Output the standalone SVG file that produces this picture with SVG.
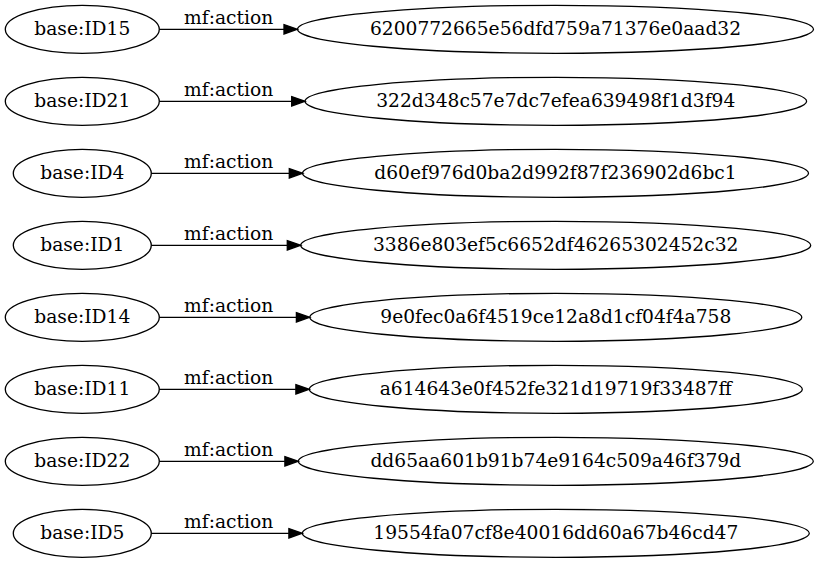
<svg xmlns="http://www.w3.org/2000/svg" width="819" height="563" viewBox="0 0 819 563">
<defs>
<style>
.n ellipse{fill:none;stroke:#000;stroke-width:1.33}
text{font-family:"DejaVu Serif","Liberation Serif",serif;font-size:18.67px;fill:#000;text-anchor:middle}
.e line{stroke:#000;stroke-width:1.33}
.e polygon{fill:#000;stroke:#000;stroke-width:1.33}
</style>
</defs>
<rect width="819" height="563" fill="#fff"/>
<g id="connectors" class="e">
<line x1="159.3" y1="29.3" x2="284" y2="29.3"/><polygon points="284,24.6 297.3,29.3 284,34"/><text x="228.7" y="23.8">mf:action</text>
<line x1="159.3" y1="101.3" x2="291.7" y2="101.3"/><polygon points="291.7,96.6 305,101.3 291.7,106"/><text x="228.7" y="95.8">mf:action</text>
<line x1="151.3" y1="173.3" x2="289.3" y2="173.3"/><polygon points="289.3,168.6 302.7,173.3 289.3,178"/><text x="228.7" y="167.8">mf:action</text>
<line x1="151.3" y1="245.3" x2="287.3" y2="245.3"/><polygon points="287.3,240.6 300.7,245.3 287.3,250"/><text x="228.7" y="239.8">mf:action</text>
<line x1="159.3" y1="317.3" x2="296.4" y2="317.3"/><polygon points="296.4,312.6 309.7,317.3 296.4,322"/><text x="228.7" y="311.8">mf:action</text>
<line x1="159.3" y1="389.3" x2="295.9" y2="389.3"/><polygon points="295.9,384.6 309.2,389.3 295.9,394"/><text x="228.7" y="383.8">mf:action</text>
<line x1="159.3" y1="461.3" x2="284.9" y2="461.3"/><polygon points="284.9,456.6 298.2,461.3 284.9,466"/><text x="228.7" y="455.8">mf:action</text>
<line x1="151.3" y1="533.3" x2="288.9" y2="533.3"/><polygon points="288.9,528.6 302.2,533.3 288.9,538"/><text x="228.7" y="527.8">mf:action</text>
</g>
<g id="ID15" class="n"><ellipse cx="82.3" cy="29.3" rx="77" ry="24"/><text x="82.3" y="35">base:ID15</text></g>
<g id="ID21" class="n"><ellipse cx="82.3" cy="101.3" rx="77" ry="24"/><text x="82.3" y="107">base:ID21</text></g>
<g id="ID4" class="n"><ellipse cx="82.3" cy="173.3" rx="69" ry="24"/><text x="82.3" y="179">base:ID4</text></g>
<g id="ID1" class="n"><ellipse cx="82.3" cy="245.3" rx="69" ry="24"/><text x="82.3" y="251">base:ID1</text></g>
<g id="ID14" class="n"><ellipse cx="82.3" cy="317.3" rx="77" ry="24"/><text x="82.3" y="323">base:ID14</text></g>
<g id="ID11" class="n"><ellipse cx="82.3" cy="389.3" rx="77" ry="24"/><text x="82.3" y="395">base:ID11</text></g>
<g id="ID22" class="n"><ellipse cx="82.3" cy="461.3" rx="77" ry="24"/><text x="82.3" y="467">base:ID22</text></g>
<g id="ID5" class="n"><ellipse cx="82.3" cy="533.3" rx="69" ry="24"/><text x="82.3" y="539">base:ID5</text></g>
<g id="h6200" class="n"><ellipse cx="555.5" cy="29.3" rx="258" ry="24"/><text x="555.5" y="35">6200772665e56dfd759a71376e0aad32</text></g>
<g id="h322d" class="n"><ellipse cx="555.8" cy="101.3" rx="250.8" ry="24"/><text x="555.8" y="107">322d348c57e7dc7efea639498f1d3f94</text></g>
<g id="hd60e" class="n"><ellipse cx="555.5" cy="173.3" rx="253" ry="24"/><text x="555.5" y="179">d60ef976d0ba2d992f87f236902d6bc1</text></g>
<g id="h3386" class="n"><ellipse cx="555.7" cy="245.3" rx="255" ry="24"/><text x="555.7" y="251">3386e803ef5c6652df46265302452c32</text></g>
<g id="h9e0f" class="n"><ellipse cx="555.8" cy="317.3" rx="246" ry="24"/><text x="555.8" y="323">9e0fec0a6f4519ce12a8d1cf04f4a758</text></g>
<g id="ha614" class="n"><ellipse cx="555.8" cy="389.3" rx="246.5" ry="24"/><text x="555.8" y="395">a614643e0f452fe321d19719f33487ff</text></g>
<g id="hdd65" class="n"><ellipse cx="555.8" cy="461.3" rx="257.5" ry="24"/><text x="555.8" y="467">dd65aa601b91b74e9164c509a46f379d</text></g>
<g id="h1955" class="n"><ellipse cx="555.8" cy="533.3" rx="253.5" ry="24"/><text x="555.8" y="539">19554fa07cf8e40016dd60a67b46cd47</text></g>
</svg>
